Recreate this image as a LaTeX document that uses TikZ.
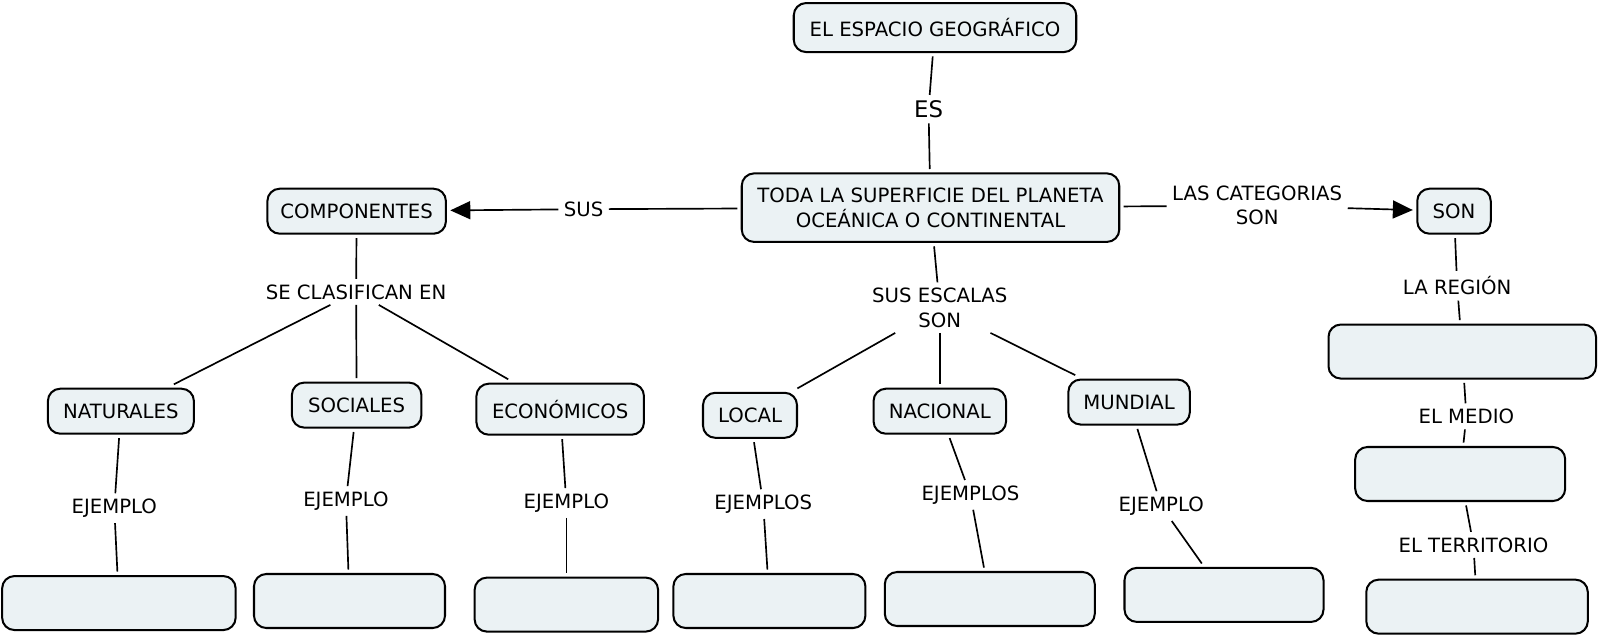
\documentclass[tikz,border=0pt]{standalone}
\usepackage{fontspec}
\setmainfont{DejaVu Sans}
\usetikzlibrary{arrows.meta}
\definecolor{boxfill}{RGB}{235,242,244}

\begin{document}
\begin{tikzpicture}[
  font=\fontsize{11.2}{13.9}\selectfont,
  box/.style={draw, rounded corners=7pt, fill=boxfill, line width=1.15pt, align=center,
              inner sep=3pt, outer sep=2.5pt, minimum height=9mm},
  wide/.style={box, minimum height=10.8mm},
  lbl/.style={align=center, inner sep=3pt},
  ln/.style={line width=0.95pt},
  ar/.style={ln, -{Triangle[length=4mm, width=3.6mm]}}
]
\useasboundingbox (0,0) rectangle (32,-12.755);

\node[box, minimum width=5.65cm, minimum height=9.8mm] (geo) at (18.70,-0.551) {EL ESPACIO GEOGRÁFICO};
\node[box, minimum width=7.55cm, minimum height=13.7mm] (sup) at (18.61,-4.153)
     {TODA LA SUPERFICIE DEL PLANETA\\OCEÁNICA O CONTINENTAL};
\node[box, minimum width=3.57cm] (comp) at (7.133,-4.224) {COMPONENTES};
\node[box, minimum width=1.47cm] (son)  at (29.08,-4.224) {SON};

% components
\node[box, minimum width=2.92cm] (nat) at (2.418,-8.224) {NATURALES};
\node[box, minimum width=2.59cm] (soc) at (7.133,-8.102) {SOCIALES};
\node[box, minimum width=3.35cm, minimum height=10.2mm] (eco) at (11.204,-8.184) {ECONÓMICOS};
% scales
\node[box, minimum width=1.88cm] (loc) at (15.0,-8.306)   {LOCAL};
\node[box, minimum width=2.65cm] (nac) at (18.796,-8.224) {NACIONAL};
\node[box, minimum width=2.43cm] (mun) at (22.582,-8.041) {MUNDIAL};
% empty boxes
\node[wide, minimum width=4.67cm] (ex1) at (2.378,-12.061) {};
\node[wide, minimum width=3.82cm] (ex2) at (6.99,-12.02)   {};
\node[wide, minimum width=3.67cm] (ex3) at (11.327,-12.092) {};
\node[wide, minimum width=3.84cm] (ex4) at (15.388,-12.02) {};
\node[wide, minimum width=4.20cm] (ex5) at (19.796,-11.98) {};
\node[wide, minimum width=3.98cm] (ex6) at (24.48,-11.898) {};
\node[wide, minimum width=5.35cm] (reg) at (29.245,-7.031) {};
\node[wide, minimum width=4.20cm] (med) at (29.204,-9.480) {};
\node[wide, minimum width=4.43cm] (ter) at (29.541,-12.133) {};

% link labels
\node[lbl, font=\fontsize{13}{15}\selectfont] (es) at (18.571,-2.184) {ES};
\node[lbl] (sus)  at (11.673,-4.184) {SUS};
\node[lbl] (cat)  at (25.143,-4.112) {LAS CATEGORIAS\\SON};
\node[lbl] (clas) at (7.122,-5.837)  {SE CLASIFICAN EN};
\node[lbl] (esc)  at (18.796,-6.153) {SUS ESCALAS\\SON};
\node[lbl] (lreg) at (29.143,-5.714) {LA REGIÓN};
\node[lbl] (lmed) at (29.327,-8.327) {EL MEDIO};
\node[lbl] (lter) at (29.469,-10.898) {EL TERRITORIO};
\node[lbl] (ej1)  at (2.286,-10.163) {EJEMPLO};
\node[lbl] (ej2)  at (6.918,-10.02)  {EJEMPLO};
\node[lbl] (ej3)  at (11.327,-10.061) {EJEMPLO};
\node[lbl] (ej4)  at (15.265,-10.082) {EJEMPLOS};
\node[lbl] (ej5)  at (19.408,-9.898) {EJEMPLOS};
\node[lbl] (ej6)  at (23.224,-10.122) {EJEMPLO};

\draw[ln] (geo) -- (es);
\draw[ln] (es) -- (sup);
\draw[ln] (sup) -- (sus);
\draw[ar] (sus) -- (comp);
\draw[ln] (sup) -- (cat);
\draw[ar] (cat) -- (son);
\draw[ln] (comp) -- (clas);
\foreach \n in {nat,soc,eco} \draw[ln] (clas) -- (\n);
\draw[ln] (sup) -- (esc);
\foreach \n in {loc,nac,mun} \draw[ln] (esc) -- (\n);
\foreach \a/\l/\b in {nat/ej1/ex1, soc/ej2/ex2, eco/ej3/ex3, loc/ej4/ex4, nac/ej5/ex5, mun/ej6/ex6,
                      son/lreg/reg, reg/lmed/med, med/lter/ter} {
  \draw[ln] (\a) -- (\l);
  \draw[ln] (\l) -- (\b);
}
\end{tikzpicture}
\end{document}
